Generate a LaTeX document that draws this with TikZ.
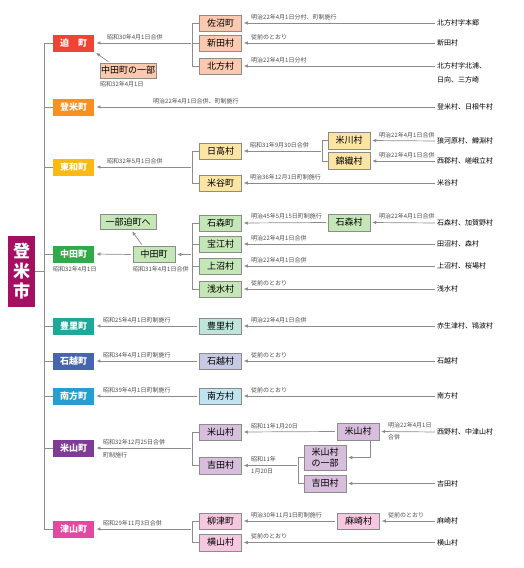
\documentclass[tikz,border=0pt]{standalone}
\usepackage{fontspec}
\setmainfont{Noto Sans CJK JP}
\usetikzlibrary{arrows.meta}
\definecolor{cTome}{HTML}{A50F62}
\definecolor{cHas}{HTML}{EE4433}
\definecolor{cToy}{HTML}{F7901E}
\definecolor{cTow}{HTML}{FDB913}
\definecolor{cNak}{HTML}{2EAA4A}
\definecolor{cTsa}{HTML}{1FA899}
\definecolor{cIsh}{HTML}{4665AF}
\definecolor{cMin}{HTML}{259FCF}
\definecolor{cYon}{HTML}{7F3C97}
\definecolor{cTsu}{HTML}{E04AA0}
\definecolor{vHas}{HTML}{FAC9AF}
\definecolor{vTow}{HTML}{FCE4A2}
\definecolor{vNak}{HTML}{C5E7B7}
\definecolor{vTsa}{HTML}{BFE5DB}
\definecolor{vIsh}{HTML}{C8CAE4}
\definecolor{vMin}{HTML}{BFE3F1}
\definecolor{vYon}{HTML}{D8BEDD}
\definecolor{vTsu}{HTML}{F5C8E0}
\tikzset{
 town/.style={fill=#1, minimum width=41.5pt, minimum height=17pt, inner sep=0pt, text=white, font=\fontsize{9}{9}\selectfont\bfseries},
 vil/.style={fill=#1, draw=black!45, line width=0.5pt, minimum width=42pt, minimum height=16pt, inner sep=0pt, font=\fontsize{9}{9}\selectfont},
 sm/.style={font=\fontsize{6}{6}\selectfont, inner sep=0pt, text=black!70},
 sml/.style={sm, anchor=south west},
 smb/.style={sm, anchor=north west},
 rl/.style={font=\fontsize{7}{8}\selectfont, inner sep=0pt, anchor=west},
 ln/.style={draw=black!45, line width=0.7pt},
 arr/.style={ln, -{Latex[length=4pt,width=3.6pt]}, shorten >=2pt, shorten <=2pt},
}
\begin{document}
\begin{tikzpicture}[x=1pt,y=-1pt]
\useasboundingbox (0,0) rectangle (523,568);

% main box
\node[fill=cTome, minimum width=27pt, minimum height=71pt, inner sep=0pt, text=white, font=\fontsize{17}{20}\selectfont\bfseries, align=center] (tome) at (21.5,271.5) {登\\米\\市};

% towns
\node[town=cHas] (hasama) at (73.5,43) {迫　町};
\node[town=cToy] (toyoma) at (73.5,107) {登米町};
\node[town=cTow] (towa) at (73.5,167) {東和町};
\node[town=cNak] (nakata) at (73.5,254) {中田町};
\node[town=cTsa] (toyosato) at (73.5,326) {豊里町};
\node[town=cIsh] (ishikoshi) at (73.5,361) {石越町};
\node[town=cMin] (minamikata) at (73.5,396) {南方町};
\node[town=cYon] (yoneyama) at (73.5,448) {米山町};
\node[town=cTsu] (tsuyama) at (73.5,529) {津山町};

% trunk
\coordinate (tk) at (45,271.5);
\draw[ln] (tome.east) -- (tk);
\draw[ln] (hasama.west) -- ++(-8,0) |- (tsuyama.west);
\foreach \t in {toyoma,towa,nakata,toyosato,ishikoshi,minamikata,yoneyama}
  \draw[ln] (\t.west) -- ++(-8,0);

% ---------- 迫町 ----------
\node[vil=vHas] (sanuma) at (220.5,23) {佐沼町};
\node[vil=vHas] (shinden) at (220.5,43) {新田村};
\node[vil=vHas] (kitakata) at (220.5,66) {北方村};
\node[vil=vHas, minimum width=56pt, minimum height=15pt] (ichibu) at (128,70.5) {中田町の一部};
\coordinate (bHas) at (193,43);
\draw[ln] (sanuma.west) -- ++(-7,0) |- (kitakata.west);
\draw[ln] (shinden.west) -- (bHas);
\draw[arr] (bHas) -- (hasama.east);
\node[sml] (l1) at (107,40) {昭和30年4月1日合併};
\draw[arr] ([xshift=10pt]ichibu.north west) -- (hasama.south east);
\node[smb] (l2) at (100,81) {昭和32年4月1日};
\node[rl] (r1) at (437,23) {北方村字本郷};
\node[rl] (r2) at (437,43) {新田村};
\node[rl] (r3) at (437,66) {北方村字北浦、};
\node[rl] (r3b) at (437,80) {日向、三方崎};
\draw[arr] (r1.west) -- (sanuma.east);
\draw[arr] (r2.west) -- (shinden.east);
\draw[arr] (r3.west) -- (kitakata.east);
\node[sml] (l3) at (251,20) {明治22年4月1日分村、町制施行};
\node[sml] (l4) at (251,40) {従前のとおり};
\node[sml] (l5) at (251,63) {明治22年4月1日分村};

% ---------- 登米町 ----------
\node[rl] (r4) at (437,107) {登米村、日根牛村};
\draw[arr] (r4.west) -- (toyoma.east);
\node[sml] (l6) at (153,104) {明治22年4月1日合併、町制施行};

% ---------- 東和町 ----------
\node[vil=vTow] (hidaka) at (220.5,151) {日高村};
\node[vil=vTow] (maiya) at (220.5,183) {米谷町};
\coordinate (bTow) at (193,167);
\draw[ln] (hidaka.west) -- ++(-7,0) |- (maiya.west);
\draw[arr] (bTow) -- (towa.east);
\node[sml] (l7) at (107,164) {昭和32年5月1日合併};
\node[vil=vTow, minimum height=17pt] (yonekawa) at (349,140.5) {米川村};
\node[vil=vTow, minimum height=17pt] (nishikiori) at (349,161) {錦織村};
\coordinate (bHid) at (323,151);
\draw[ln] (yonekawa.west) -- ++(-5.5,0) |- (nishikiori.west);
\draw[arr] (bHid) -- (hidaka.east);
\node[sml] (l8) at (250,148) {昭和31年9月30日合併};
\node[rl] (r5) at (437,141) {狼河原村、鱒淵村};
\node[rl] (r6) at (437,161) {西郡村、嵯峨立村};
\node[rl] (r7) at (437,183) {米谷村};
\draw[arr] (r5.west) -- (yonekawa.east);
\draw[arr] (r6.west) -- (nishikiori.east);
\draw[arr] (r7.west) -- (maiya.east);
\node[sml] (l9) at (379,138) {明治22年4月1日合併};
\node[sml] (l10) at (379,158) {明治22年4月1日合併};
\node[sml] (l11) at (250,180) {明治36年12月1日町制施行};

% ---------- 中田町 ----------
\node[smb] (l12) at (53,266) {昭和32年4月1日};
\node[vil=vNak] (nakata2) at (154,254.5) {中田町};
\node[smb] (l13) at (133,266) {昭和31年4月1日合併};
\node[vil=vNak, minimum width=56pt, minimum height=15pt] (ichibuhe) at (128,222) {一部迫町へ};
\draw[arr] (nakata2.west) -- (nakata.east);
\draw[arr] ([xshift=-11pt]nakata2.north) -- ([xshift=3pt]ichibuhe.south);
\node[vil=vNak] (ishimori) at (220.5,223) {石森町};
\node[vil=vNak] (takarae) at (220.5,244) {宝江村};
\node[vil=vNak] (kaminuma) at (220.5,266) {上沼村};
\node[vil=vNak] (asamizu) at (220.5,289) {浅水村};
\coordinate (bNak) at (193,254.5);
\draw[ln] (ishimori.west) -- ++(-7,0) |- (asamizu.west);
\draw[ln] (takarae.west) -- ++(-7,0);
\draw[ln] (kaminuma.west) -- ++(-7,0);
\draw[arr] (bNak) -- (nakata2.east);
\node[vil=vNak, minimum height=17pt] (ishimori3) at (349,222.5) {石森村};
\draw[arr] (ishimori3.west) -- (ishimori.east);
\node[sml] (l14) at (251,219.5) {明治45年5月15日町制施行};
\node[rl] (r8) at (437,223) {石森村、加賀野村};
\node[rl] (r9) at (437,244) {田沼村、森村};
\node[rl] (r10) at (437,266) {上沼村、桜場村};
\node[rl] (r11) at (437,289) {浅水村};
\draw[arr] (r8.west) -- (ishimori3.east);
\draw[arr] (r9.west) -- (takarae.east);
\draw[arr] (r10.west) -- (kaminuma.east);
\draw[arr] (r11.west) -- (asamizu.east);
\node[sml] (l15) at (379,219.5) {明治22年4月1日合併};
\node[sml] (l16) at (251,241) {明治22年4月1日合併};
\node[sml] (l17) at (251,263) {明治22年4月1日合併};
\node[sml] (l18) at (251,286) {従前のとおり};

% ---------- 豊里町 / 石越町 / 南方町 ----------
\node[vil=vTsa] (toyosato2) at (220.5,326) {豊里村};
\node[vil=vIsh] (ishikoshi2) at (220.5,361) {石越村};
\node[vil=vMin] (minamikata2) at (220.5,396) {南方村};
\draw[arr] (toyosato2.west) -- (toyosato.east);
\draw[arr] (ishikoshi2.west) -- (ishikoshi.east);
\draw[arr] (minamikata2.west) -- (minamikata.east);
\node[sml] (l19) at (103,323) {昭和25年4月1日町制施行};
\node[sml] (l20) at (103,358) {昭和34年4月1日町制施行};
\node[sml] (l21) at (103,393) {昭和39年4月1日町制施行};
\node[rl] (r12) at (437,326) {赤生津村、鴇波村};
\node[rl] (r13) at (437,361) {石越村};
\node[rl] (r14) at (437,396) {南方村};
\draw[arr] (r12.west) -- (toyosato2.east);
\draw[arr] (r13.west) -- (ishikoshi2.east);
\draw[arr] (r14.west) -- (minamikata2.east);
\node[sml] (l22) at (251,323) {明治22年4月1日合併};
\node[sml] (l23) at (251,358) {従前のとおり};
\node[sml] (l24) at (251,393) {従前のとおり};

% ---------- 米山町 ----------
\node[vil=vYon] (yone2) at (220.5,432) {米山村};
\node[vil=vYon, minimum height=17pt] (yoshida2) at (220.5,465.5) {吉田村};
\coordinate (bYon) at (193,448);
\draw[ln] (yone2.west) -- ++(-7,0) |- (yoshida2.west);
\draw[arr] (bYon) -- (yoneyama.east);
\node[sml] (l25) at (103,445) {昭和32年12月25日合併};
\node[smb] (l26) at (103,452) {町制施行};
\node[vil=vYon, minimum height=17pt] (yone3) at (358,431.5) {米山村};
\draw[arr] (yone3.west) -- (yone2.east);
\node[sml] (l27) at (251,429) {昭和11年1月20日};
\node[vil=vYon, minimum height=25pt, align=center, font=\fontsize{9}{10.5}\selectfont] (yoneichibu) at (325,457.5) {米山村\\の一部};
\node[vil=vYon, minimum height=17pt] (yoshida3) at (325,483.5) {吉田村};
\coordinate (bYos) at (299,465.5);
\draw[ln] (yoneichibu.west) -- ++(-5,0) |- (yoshida3.west);
\draw[arr] (bYos) -- (yoshida2.east);
\draw[arr, shorten <=0pt] ([xshift=12pt]yone3.south) |- (yoneichibu.east);
\node[sml] (l28) at (251,462.5) {昭和11年};
\node[smb] (l29) at (251,469) {1月20日};
\node[rl] (r15) at (437,432) {西野村、中津山村};
\node[rl] (r16) at (437,483.5) {吉田村};
\draw[arr] (r15.west) -- (yone3.east);
\draw[arr] (r16.west) -- (yoshida3.east);
\node[sml] (l30) at (388,428.5) {明治22年4月1日};
\node[smb] (l31) at (388,434.5) {合併};

% ---------- 津山町 ----------
\node[vil=vTsu] (yanaizu) at (220.5,521) {柳津町};
\node[vil=vTsu, minimum height=17pt] (yokoyama) at (220.5,542.5) {横山村};
\coordinate (bTsu) at (193,529);
\draw[ln] (yanaizu.west) -- ++(-7,0) |- (yokoyama.west);
\draw[arr] (bTsu) -- (tsuyama.east);
\node[sml] (l32) at (103,526) {昭和29年11月3日合併};
\node[vil=vTsu] (asaki) at (358.5,521) {麻崎村};
\draw[arr] (asaki.west) -- (yanaizu.east);
\node[sml] (l33) at (251,518) {明治30年11月1日町制施行};
\node[rl] (r17) at (437,521) {麻崎村};
\node[rl] (r18) at (437,542.5) {横山村};
\draw[arr] (r17.west) -- (asaki.east);
\draw[arr] (r18.west) -- (yokoyama.east);
\node[sml] (l34) at (388,518) {従前のとおり};
\node[sml] (l35) at (251,539.5) {従前のとおり};
\end{tikzpicture}
\end{document}
